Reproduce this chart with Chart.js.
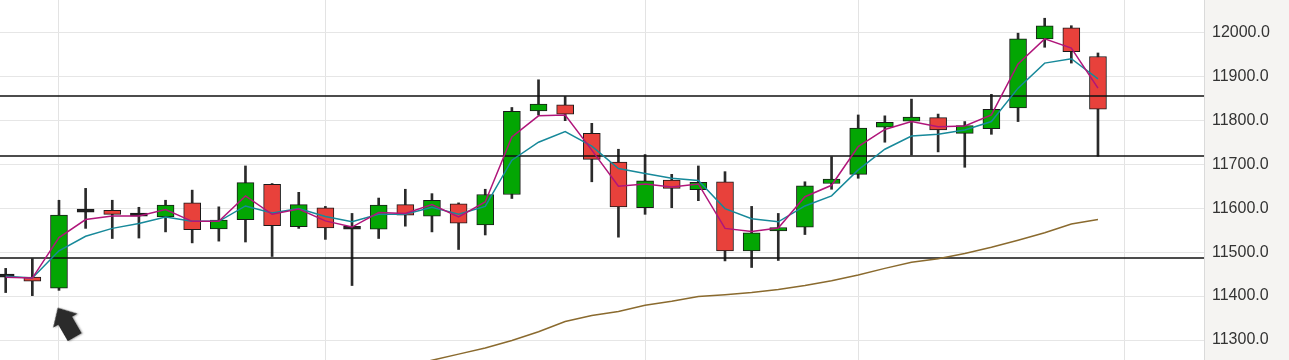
<!DOCTYPE html>
<html>
<head>
<meta charset="utf-8">
<script src="https://cdn.jsdelivr.net/npm/chart.js@4/dist/chart.umd.min.js"></script>
<style>
  html, body { margin: 0; padding: 0; background: #fff; }
  #wrap { width: 1289px; height: 360px; }
</style>
</head>
<body>
<div id="wrap"><canvas id="chart"></canvas></div>
<script>
// candles
const opens  = [11444, 11443, 11418, 11591, 11595, 11584, 11580, 11612, 11553, 11574, 11654, 11558, 11601, 11553, 11552, 11608, 11582, 11610, 11562, 11631, 11821, 11835, 11770, 11705, 11601, 11664, 11642, 11660, 11503, 11548, 11557, 11656, 11677, 11784, 11798, 11806, 11770, 11781, 11828, 11985, 12010, 11945];
const highs  = [11463, 11485, 11618, 11645, 11618, 11602, 11618, 11641, 11603, 11696, 11656, 11636, 11604, 11588, 11623, 11643, 11633, 11612, 11643, 11829, 11892, 11854, 11793, 11734, 11722, 11677, 11696, 11683, 11604, 11588, 11660, 11717, 11812, 11810, 11848, 11814, 11797, 11859, 11998, 12032, 12015, 11953];
const lows   = [11408, 11401, 11413, 11554, 11531, 11532, 11546, 11521, 11525, 11523, 11490, 11554, 11529, 11424, 11531, 11559, 11546, 11506, 11539, 11622, 11812, 11799, 11660, 11534, 11586, 11601, 11617, 11480, 11465, 11481, 11540, 11643, 11668, 11750, 11721, 11728, 11693, 11768, 11797, 11966, 11930, 11718];
const closes = [11443, 11434, 11584, 11592, 11586, 11582, 11607, 11551, 11573, 11658, 11560, 11608, 11555, 11552, 11607, 11584, 11618, 11566, 11631, 11820, 11837, 11814, 11711, 11603, 11662, 11645, 11659, 11503, 11544, 11556, 11651, 11666, 11782, 11795, 11807, 11778, 11788, 11825, 11985, 12015, 11956, 11825];

// moving averages
const maFast = [11443, 11441, 11533, 11574, 11582, 11582, 11597, 11570, 11570, 11628, 11586, 11598, 11571, 11557, 11590, 11588, 11608, 11580, 11614, 11762, 11810, 11812, 11732, 11650, 11655, 11648, 11655, 11554, 11547, 11555, 11626, 11652, 11740, 11779, 11797, 11785, 11787, 11812, 11928, 11985, 11964, 11873];
const maMid  = [11445, 11441, 11503, 11536, 11554, 11565, 11580, 11570, 11570, 11605, 11589, 11599, 11581, 11569, 11586, 11586, 11602, 11586, 11604, 11709, 11750, 11774, 11741, 11690, 11679, 11668, 11663, 11599, 11576, 11569, 11605, 11628, 11687, 11734, 11764, 11768, 11778, 11797, 11873, 11930, 11940, 11894];
const maSlow = [null, null, null, null, null, null, null, null, null, null, null, null, null, null, null, 11240, 11254, 11268, 11282, 11299, 11319, 11342, 11356, 11365, 11379, 11388, 11399, 11403, 11408, 11415, 11424, 11435, 11448, 11463, 11477, 11485, 11497, 11511, 11527, 11544, 11564, 11574];

// horizontal levels, price ticks, vertical grid positions (candle index)
const levels = [11855, 11718.6, 11486.5];
const priceTicks = [11300, 11400, 11500, 11600, 11700, 11800, 11900, 12000];
const timeGrid = [2, 12, 24, 32, 42];
const arrowMark = { x: 2.29, y: 11338 };

const GREEN = '#03a603';
const RED = '#e8413b';
const DOJI = '#222';

const idx = opens.map((_, i) => i);
const bodies = idx.map(i => ({ x: i, y: [opens[i], closes[i]] }));
const wicks = idx.map(i => ({ x: i, y: [lows[i], highs[i]] }));
const bodyColors = idx.map(i => {
  if (Math.abs(closes[i] - opens[i]) <= 2) return DOJI;
  return closes[i] >= opens[i] ? GREEN : RED;
});
const toPts = arr => arr.map((v, i) => ({ x: i, y: v }));

// arrow marker image
const arrow = document.createElement('canvas');
arrow.width = 32; arrow.height = 38;
(function () {
  const c = arrow.getContext('2d');
  c.shadowColor = 'rgba(0,0,0,0.35)';
  c.shadowBlur = 2;
  c.shadowOffsetX = 1;
  c.shadowOffsetY = 1;
  c.fillStyle = '#2b2b2b';
  c.beginPath();
  c.moveTo(16, 1);
  c.lineTo(30, 16);
  c.lineTo(24, 16);
  c.lineTo(24, 35);
  c.lineTo(8, 35);
  c.lineTo(8, 16);
  c.lineTo(2, 16);
  c.closePath();
  c.fill();
})();

const axisBg = {
  id: 'axisBg',
  beforeDraw(chart) {
    const { ctx, chartArea, width, height } = chart;
    ctx.save();
    ctx.fillStyle = '#f5f4f2';
    ctx.fillRect(chartArea.right, 0, width - chartArea.right, height);
    ctx.restore();
  }
};

const noPad = s => {
  s.paddingTop = 0; s.paddingBottom = 0;
  s.paddingLeft = 0; s.paddingRight = 0;
};

const lineDs = (data, color, width, order) => ({
  type: 'line',
  data: data,
  borderColor: color,
  borderWidth: width,
  pointRadius: 0,
  tension: 0,
  spanGaps: false,
  order: order
});

new Chart(document.getElementById('chart'), {
  type: 'bar',
  data: {
    datasets: [
      {
        type: 'line',
        data: [arrowMark],
        showLine: false,
        pointStyle: arrow,
        rotation: -30,
        pointRadius: 10,
        order: -1
      },
      lineDs(toPts(maFast), '#b0157a', 1.5, 0),
      lineDs(toPts(maMid), '#17899a', 1.5, 0),
      lineDs(toPts(maSlow), '#8a6a2e', 1.5, 0),
      ...levels.map(v => lineDs([{ x: -1, y: v }, { x: 46, y: v }], '#111', 1.5, 1)),
      {
        data: bodies,
        backgroundColor: bodyColors,
        borderColor: '#1a1a1a',
        borderWidth: 1,
        borderSkipped: false,
        barThickness: 17,
        minBarLength: 3,
        grouped: false,
        order: 2
      },
      {
        data: wicks,
        backgroundColor: '#2a2a2a',
        borderWidth: 0,
        barThickness: 2,
        grouped: false,
        order: 3
      }
    ]
  },
  options: {
    responsive: true,
    maintainAspectRatio: false,
    animation: false,
    layout: { padding: 0, autoPadding: false },
    plugins: {
      legend: { display: false },
      tooltip: { enabled: false }
    },
    scales: {
      x: {
        type: 'linear',
        min: -0.214,
        max: 44.98,
        offset: false,
        grid: { color: '#e3e3e3', drawTicks: false, offset: false },
        border: { display: false },
        ticks: { display: false },
        afterBuildTicks: s => { s.ticks = timeGrid.map(v => ({ value: v })); },
        afterFit: s => { s.height = 0; noPad(s); }
      },
      y: {
        position: 'right',
        min: 11254.6,
        max: 12073.5,
        grid: { color: '#e6e6e6', drawTicks: false },
        border: { color: '#dadada', width: 1 },
        ticks: {
          padding: 8,
          color: '#333',
          font: { family: 'Liberation Sans, Arial, sans-serif', size: 16 },
          callback: v => v.toFixed(1)
        },
        afterBuildTicks: s => { s.ticks = priceTicks.map(v => ({ value: v })); },
        afterFit: s => { s.width = 85; noPad(s); }
      }
    }
  },
  plugins: [axisBg]
});
</script>
</body>
</html>
